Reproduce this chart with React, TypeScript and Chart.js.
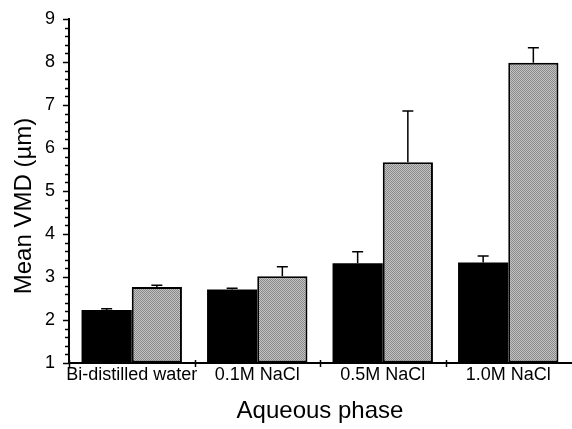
import React, { useEffect, useRef } from 'react';
import { Chart, registerables } from 'chart.js';

Chart.register(...registerables);

const categories = ['Bi-distilled water', '0.1M NaCl', '0.5M NaCl', '1.0M NaCl'];
const blackValues = [2.23, 2.71, 3.32, 3.34];
const blackErrors = [0.03, 0.03, 0.27, 0.15];
const grayValues = [2.77, 3.02, 5.67, 7.98];
const grayErrors = [0.04, 0.22, 1.19, 0.35];
const yMin = 1;
const yMax = 9;
const yStep = 1;
const yMinorStep = 0.2;
const yTitle = 'Mean VMD (µm)';
const xTitle = 'Aqueous phase';

const FONT = '"Liberation Sans", Arial, Helvetica, sans-serif';

function makeGrayPattern(): CanvasPattern | string {
  const c = document.createElement('canvas');
  c.width = 2;
  c.height = 2;
  const g = c.getContext('2d');
  if (!g) return '#a8a8a8';
  g.fillStyle = '#c4c4c4';
  g.fillRect(0, 0, 2, 2);
  g.fillStyle = '#888888';
  g.fillRect(0, 0, 1, 1);
  g.fillRect(1, 1, 1, 1);
  const p = g.createPattern(c, 'repeat');
  return p || '#a8a8a8';
}

const decorPlugin = {
  id: 'decor',
  afterDatasetsDraw(chart: any) {
    const ctx = chart.ctx;
    const y = chart.scales.y;
    ctx.save();
    ctx.strokeStyle = '#000';
    ctx.lineWidth = 1.5;
    const sets: [number, number[], number[]][] = [
      [0, blackValues, blackErrors],
      [1, grayValues, grayErrors],
    ];
    sets.forEach(([di, vals, errs]) => {
      const meta = chart.getDatasetMeta(di);
      meta.data.forEach((bar: any, i: number) => {
        const top = y.getPixelForValue(vals[i] + errs[i]);
        const base = y.getPixelForValue(vals[i]);
        ctx.beginPath();
        ctx.moveTo(bar.x, base);
        ctx.lineTo(bar.x, top);
        ctx.moveTo(bar.x - 5.5, top);
        ctx.lineTo(bar.x + 5.5, top);
        ctx.stroke();
      });
    });
    ctx.restore();
  },
  afterDraw(chart: any) {
    const ctx = chart.ctx;
    const x = chart.scales.x;
    const y = chart.scales.y;
    const area = chart.chartArea;
    ctx.save();
    ctx.strokeStyle = '#000';
    ctx.lineWidth = 1.5;
    const nMinor = Math.round((yMax - yMin) / yMinorStep);
    const perMajor = Math.round(yStep / yMinorStep);
    for (let k = 0; k <= nMinor; k++) {
      const v = yMin + k * yMinorStep;
      const py = Math.round(y.getPixelForValue(v)) + 0.5;
      const len = k % perMajor === 0 ? 6 : 4;
      ctx.beginPath();
      ctx.moveTo(area.left - len, py);
      ctx.lineTo(area.left, py);
      ctx.stroke();
    }
    const half = (x.getPixelForValue(1) - x.getPixelForValue(0)) / 2;
    for (let i = 0; i < categories.length; i++) {
      const px = Math.round(x.getPixelForValue(i) - half) + 0.5;
      ctx.beginPath();
      ctx.moveTo(px, area.bottom - 3);
      ctx.lineTo(px, area.bottom + 4);
      ctx.stroke();
    }
    ctx.translate(24, 206);
    ctx.rotate(-Math.PI / 2);
    ctx.fillStyle = '#000';
    ctx.font = `24px ${FONT}`;
    ctx.textAlign = 'center';
    ctx.textBaseline = 'middle';
    ctx.fillText(yTitle, 0, 0);
    ctx.restore();
  },
};

export default function App() {
  const ref = useRef<HTMLCanvasElement | null>(null);
  useEffect(() => {
    if (!ref.current) return;
    const gray = makeGrayPattern();
    const chart = new Chart(ref.current, {
      type: 'bar',
      data: {
        labels: categories,
        datasets: [
          {
            label: 'A',
            data: blackValues,
            backgroundColor: '#000',
            borderColor: '#000',
            borderWidth: 0,
            base: yMin,
            barPercentage: 1,
            categoryPercentage: 0.8,
          } as any,
          {
            label: 'B',
            data: grayValues,
            backgroundColor: gray as any,
            borderColor: '#000',
            borderWidth: 2,
            borderSkipped: false,
            base: yMin,
            barPercentage: 1,
            categoryPercentage: 0.8,
          } as any,
        ],
      },
      options: {
        responsive: false,
        animation: false,
        events: [],
        layout: { padding: { top: 19, right: 1, left: 0, bottom: 0 } },
        plugins: {
          legend: { display: false },
          tooltip: { enabled: false },
        },
        scales: {
          x: {
            type: 'category',
            grid: { display: true, drawOnChartArea: false, drawTicks: false, color: '#000' },
            border: { display: true, color: '#000', width: 2 },
            ticks: {
              color: '#000',
              padding: 1,
              maxRotation: 0,
              autoSkip: false,
              font: { family: FONT, size: 18 },
            },
            title: {
              display: true,
              text: xTitle,
              color: '#000',
              padding: { top: 0, bottom: 3 },
              font: { family: FONT, size: 24 },
            },
            afterFit: (s: any) => {
              s.height = 66;
            },
          },
          y: {
            type: 'linear',
            min: yMin,
            max: yMax,
            ticks: {
              stepSize: yStep,
              color: '#000',
              padding: 1,
              font: { family: FONT, size: 18 },
            },
            grid: {
              display: true,
              drawOnChartArea: false,
              drawTicks: true,
              tickLength: 13,
              tickColor: 'rgba(0,0,0,0)',
              color: '#000',
            },
            border: { display: true, color: '#000', width: 2 },
            title: { display: false },
            afterFit: (s: any) => {
              s.width = 69;
            },
          },
        },
      },
      plugins: [decorPlugin],
    });
    return () => chart.destroy();
  }, []);
  return (
    <div style={{ position: 'fixed', left: 0, top: 0, width: 572, height: 429, background: '#fff' }}>
      <canvas ref={ref} width={572} height={429} style={{ width: 572, height: 429, display: 'block' }} />
    </div>
  );
}
